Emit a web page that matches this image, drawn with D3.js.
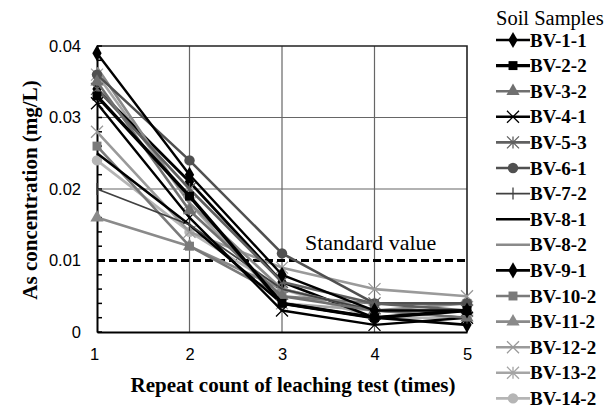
<!DOCTYPE html>
<html><head><meta charset="utf-8">
<script src="https://cdn.jsdelivr.net/npm/d3@7"></script>
<style>body{margin:0;background:#fff}svg{display:block}</style>
</head><body><svg id="c" width="607" height="410"></svg>
<script>
const repeats = [1, 2, 3, 4, 5];
const xTicks = [1, 2, 3, 4, 5];
const yTicks = [0, 0.01, 0.02, 0.03, 0.04];
const standardValue = 0.01;
const sampleNames = ["BV-1-1","BV-2-2","BV-3-2","BV-4-1","BV-5-3","BV-6-1","BV-7-2","BV-8-1","BV-8-2","BV-9-1","BV-10-2","BV-11-2","BV-12-2","BV-13-2","BV-14-2"];
const bv11 = [0.039, 0.022, 0.008, 0.003, 0.003];
const bv22 = [0.033, 0.019, 0.004, 0.002, 0.003];
const bv32 = [0.035, 0.017, 0.005, 0.003, 0.002];
const bv41 = [0.032, 0.016, 0.003, 0.001, 0.002];
const bv53 = [0.034, 0.020, 0.007, 0.004, 0.003];
const bv61 = [0.036, 0.024, 0.011, 0.004, 0.004];
const bv72 = [0.020, 0.015, 0.006, 0.003, 0.002];
const bv81 = [0.025, 0.015, 0.004, 0.002, 0.003];
const bv82 = [0.037, 0.018, 0.006, 0.003, 0.004];
const bv91 = [0.034, 0.021, 0.007, 0.002, 0.001];
const bv102 = [0.026, 0.012, 0.005, 0.004, 0.004];
const bv112 = [0.016, 0.012, 0.006, 0.003, 0.003];
const bv122 = [0.028, 0.014, 0.009, 0.006, 0.005];
const bv132 = [0.036, 0.018, 0.004, 0.003, 0.003];
const bv142 = [0.024, 0.014, 0.006, 0.002, 0.002];
const seriesValues = [bv11,bv22,bv32,bv41,bv53,bv61,bv72,bv81,bv82,bv91,bv102,bv112,bv122,bv132,bv142];

const styles = [
  {c:"#000", m:"diamond", w:2.4},
  {c:"#000", m:"square", w:3.4},
  {c:"#707070", m:"triangle", w:2.6},
  {c:"#000", m:"x", w:2.4},
  {c:"#606060", m:"star", w:2.6},
  {c:"#505050", m:"circle", w:2.6},
  {c:"#404040", m:"plus", w:1.8},
  {c:"#000", m:"none", w:2.6},
  {c:"#8a8a8a", m:"none", w:2.6},
  {c:"#000", m:"diamond", w:2.8},
  {c:"#7a7a7a", m:"square", w:2.6},
  {c:"#8a8a8a", m:"triangle", w:2.6},
  {c:"#9a9a9a", m:"x", w:2.6},
  {c:"#a5a5a5", m:"star", w:2.6},
  {c:"#b5b5b5", m:"circle", w:2.6}
];

const SERIF = "'Liberation Serif', 'Times New Roman', serif";
const SANS = "'Liberation Sans', Arial, sans-serif";

const svg = d3.select("#c");
const x = d3.scaleLinear().domain([1,5]).range([97,467]);
const y = d3.scaleLinear().domain([0,0.04]).range([332,46]);

// grid
const g = svg.append("g");
g.selectAll(".vg").data([2,3,4]).join("line")
  .attr("x1", d=>x(d)).attr("x2", d=>x(d)).attr("y1", y(0)).attr("y2", y(0.04))
  .attr("stroke", "#666").attr("stroke-width", 1.2);
g.selectAll(".hg").data([0.02,0.03]).join("line")
  .attr("x1", x(1)).attr("x2", x(5)).attr("y1", d=>y(d)).attr("y2", d=>y(d))
  .attr("stroke", "#666").attr("stroke-width", 1.2);
g.append("path").attr("d", `M${x(1)},${y(0.04)}H${x(5)}V${y(0)}`).attr("fill","none").attr("stroke","#222").attr("stroke-width",1.6);

// axes
const yAxis = d3.axisLeft(y).tickValues(yTicks).tickSize(0).tickPadding(16)
  .tickFormat(d => d === 0 ? "0" : d3.format(".2f")(d));
const ya = svg.append("g").attr("transform", `translate(${x(1)},0)`).call(yAxis);
ya.select(".domain").attr("stroke","#000").attr("stroke-width",2);
ya.selectAll("text").attr("font-family",SANS).attr("font-size",16.5).attr("fill","#000");
const minor = d3.range(0, 0.0401, 0.002);
svg.append("g").selectAll("line").data(minor).join("line")
  .attr("x1", x(1)).attr("x2", x(1)+5).attr("y1", d=>y(d)).attr("y2", d=>y(d))
  .attr("stroke","#000").attr("stroke-width",1.5);

const xAxis = d3.axisBottom(x).tickValues(xTicks).tickSize(0).tickPadding(16).tickFormat(d3.format("d"));
const xa = svg.append("g").attr("transform", `translate(0,${y(0)})`).call(xAxis);
xa.select(".domain").attr("stroke","#000").attr("stroke-width",2);
xa.selectAll("text").attr("font-family",SANS).attr("font-size",16.5).attr("fill","#000");
xa.selectAll("text").filter(d=>d===1).attr("dx", -3);

// standard line
svg.append("line").attr("x1", x(1)).attr("x2", x(5)).attr("y1", y(standardValue)).attr("y2", y(standardValue))
  .attr("stroke","#000").attr("stroke-width",3).attr("stroke-dasharray","8,4");
svg.append("text").attr("x", 305).attr("y", 250).text("Standard value")
  .attr("font-family",SERIF).attr("font-size",22).attr("fill","#000");

function drawMarker(sel, m, c, cx, cy, s) {
  const sym = {diamond:d3.symbolDiamond, square:d3.symbolSquare, triangle:d3.symbolTriangle, circle:d3.symbolCircle};
  if (sym[m]) {
    const size = {diamond:75, square:80, triangle:75, circle:85}[m];
    sel.append("path").attr("d", d3.symbol(sym[m], size*s)()).attr("transform",`translate(${cx},${cy})`).attr("fill", c);
  } else if (m === "x" || m === "star" || m === "plus") {
    const r = 6*s;
    let d = "";
    if (m !== "plus") d += `M${-r},${-r}L${r},${r}M${-r},${r}L${r},${-r}`;
    d += (m === "x") ? "" : `M0,${-r}V${r}`;
    sel.append("path").attr("d", d).attr("transform",`translate(${cx},${cy})`).attr("stroke", c).attr("stroke-width",1.3).attr("fill","none");
  }
}

const line = d3.line().x((d,i)=>x(repeats[i])).y(d=>y(d));
const sg = svg.append("g");
for (let k = seriesValues.length-1; k >= 0; k--) {
  const st = styles[k];
  sg.append("path").attr("d", line(seriesValues[k])).attr("fill","none").attr("stroke", st.c).attr("stroke-width", st.w).attr("stroke-linejoin","round");
  seriesValues[k].forEach((v,i)=> drawMarker(sg, st.m, st.c, x(repeats[i]), y(v), 1));
}

// legend
const lg = svg.append("g");
lg.append("text").attr("x", 496).attr("y", 25).text("Soil Samples")
  .attr("font-family",SERIF).attr("font-size",20.5).attr("fill","#000");
sampleNames.forEach((n,k) => {
  const ly = 40 + k*25.6;
  const st = styles[k];
  lg.append("line").attr("x1",496).attr("x2",530).attr("y1",ly).attr("y2",ly).attr("stroke",st.c).attr("stroke-width",st.w);
  drawMarker(lg, st.m, st.c, 513, ly, 1);
  lg.append("text").attr("x",530).attr("y",ly+6.5).text(n)
    .attr("font-family",SERIF).attr("font-weight","bold").attr("font-size",19).attr("fill","#000");
});

// axis titles
svg.append("text").attr("transform","translate(37,190) rotate(-90)").attr("text-anchor","middle")
  .text("As concentration (mg/L)")
  .attr("font-family",SERIF).attr("font-weight","bold").attr("font-size",21).attr("fill","#000");
svg.append("text").attr("x",293).attr("y",392).attr("text-anchor","middle")
  .text("Repeat count of leaching test (times)")
  .attr("font-family",SERIF).attr("font-weight","bold").attr("font-size",21).attr("fill","#000");
</script></body></html>
